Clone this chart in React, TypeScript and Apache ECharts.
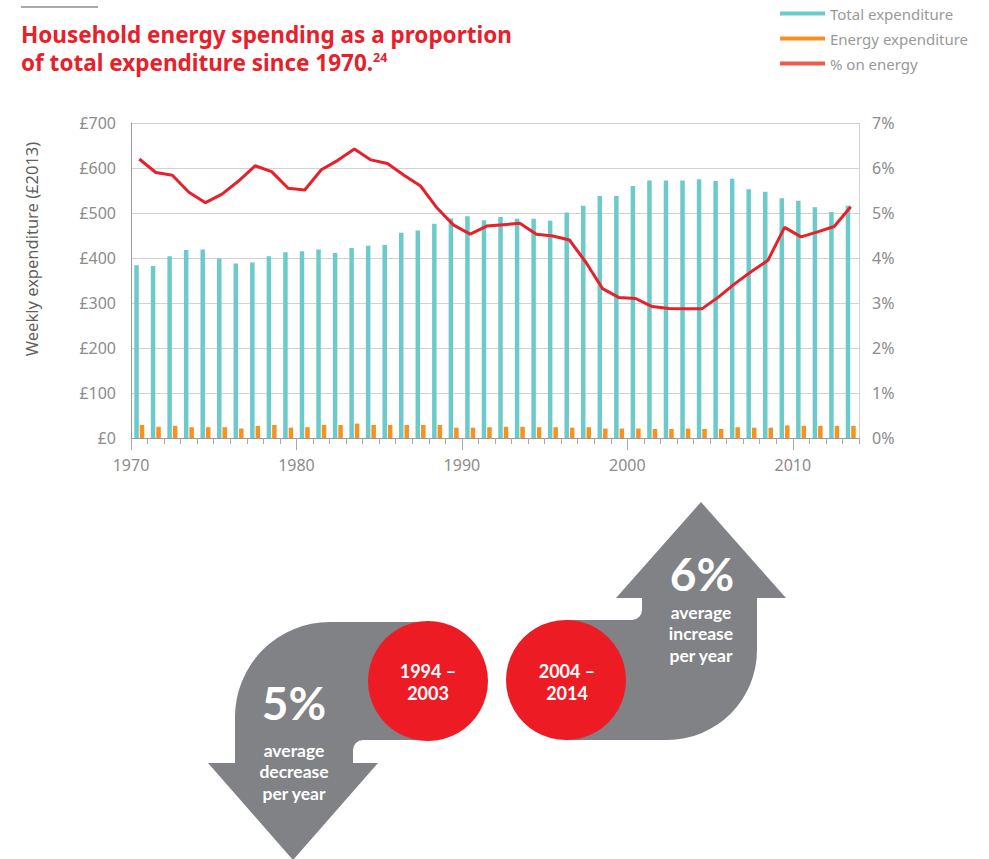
import React, { useEffect, useRef } from "react";
import * as echarts from "echarts";

const FONT = "'Noto Sans', 'Open Sans', sans-serif";
const FONT_ARROW = "Lato, 'Noto Sans', sans-serif";

const years = [
  "1970", "1971", "1972", "1973", "1974", "1975", "1976", "1977", "1978", "1979",
  "1980", "1981", "1982", "1983", "1984", "1985", "1986", "1987", "1988", "1989",
  "1990", "1991", "1992", "1993", "1994", "1995", "1996", "1997", "1998", "1999",
  "2000", "2001", "2002", "2003", "2004", "2005", "2006", "2007", "2008", "2009",
  "2010", "2011", "2012", "2013",
];

// Weekly total household expenditure (£, 2013 prices)
const totalExpenditure = [
  384, 382, 404, 418, 419, 399, 388, 390, 404, 413,
  415, 419, 411, 422, 427, 429, 456, 461, 476, 488,
  493, 484, 491, 487, 487, 483, 501, 516, 538, 538,
  560, 572, 572, 572, 575, 571, 576, 553, 547, 533,
  527, 513, 502, 516,
];

// Weekly household energy expenditure (£, 2013 prices)
const energyExpenditure = [
  29, 25, 27, 24, 24, 24, 21, 27, 29, 23,
  24, 29, 29, 32, 29, 29, 29, 29, 29, 23,
  23, 24, 25, 25, 24, 24, 23, 24, 21, 21,
  21, 20, 20, 21, 20, 20, 24, 23, 23, 28,
  27, 27, 27, 27,
];

// Share of expenditure on energy (%)
const pctOnEnergy = [
  6.2, 5.9, 5.84, 5.46, 5.23, 5.42, 5.71, 6.05, 5.92, 5.55,
  5.51, 5.96, 6.17, 6.42, 6.18, 6.1, 5.84, 5.6, 5.11, 4.73,
  4.53, 4.71, 4.74, 4.77, 4.53, 4.49, 4.4, 3.9, 3.32, 3.12,
  3.1, 2.92, 2.88, 2.87, 2.87, 3.13, 3.43, 3.7, 3.95, 4.68,
  4.47, 4.58, 4.7, 5.14,
];

const decadeTicks = [1970, 1980, 1990, 2000, 2010];

const leftArrowD =
  "M428 622 L330 622 A95 95 0 0 0 235 717 L235 763 L208 763 L293 860 L378 763 L353 763 L353 750 A10 10 0 0 1 363 740 L428 740 Z";
const rightArrowD =
  "M566 740 L667 740 A90 90 0 0 0 757 650 L757 598 L786 598 L701 502 L616 598 L642 598 L642 610 A10 10 0 0 1 632 620 L566 620 Z";

echarts.graphic.registerShape("leftArrow", echarts.graphic.extendPath(leftArrowD, {}));
echarts.graphic.registerShape("rightArrow", echarts.graphic.extendPath(rightArrowD, {}));

const TEAL = "#6dcaca";
const ORANGE = "#f7911f";
const RED = "#e8202a";
const GREY_SHAPE = "#818285";
const CIRCLE_RED = "#ed1c24";
const LABEL = "#8c8c8c";

export default function App() {
  const ref = useRef<HTMLDivElement>(null);

  useEffect(() => {
    document.body.style.margin = "0";
    if (!ref.current) return;
    const chart = echarts.init(ref.current, undefined, { renderer: "svg" });

    const whiteText = (x: number, y: number, text: string, size: number, weight: any) => ({
      type: "text",
      x,
      y,
      z: 10,
      style: {
        text,
        fill: "#ffffff",
        fontSize: size,
        fontWeight: weight,
        fontFamily: FONT_ARROW,
        align: "center",
        verticalAlign: "middle",
        lineHeight: size,
      },
    });

    const option: any = {
      animation: false,
      textStyle: { fontFamily: FONT },
      legend: {
        orient: "vertical",
        left: 775,
        top: 1,
        itemWidth: 45,
        itemHeight: 4,
        itemGap: 10,
        icon: "rect",
        textStyle: { color: "#999999", fontSize: 15, fontFamily: FONT },
        data: [
          { name: "Total expenditure", itemStyle: { color: TEAL } },
          { name: "Energy expenditure", itemStyle: { color: ORANGE } },
          { name: "% on energy", itemStyle: { color: "#f05a48" } },
        ],
      },
      grid: { left: 131, right: 130, top: 123, bottom: 421, containLabel: false },
      xAxis: [
        {
          type: "category",
          data: years,
          boundaryGap: true,
          position: "bottom",
          axisLine: { show: true, onZero: false, lineStyle: { color: "#9a9a9a", width: 1 } },
          axisTick: { show: true, interval: 0, length: 6, lineStyle: { color: "#a8a8a8" } },
          axisLabel: { show: false },
          splitLine: { show: false },
        },
        {
          type: "value",
          min: 1970,
          max: 2014,
          position: "bottom",
          axisLine: { show: false, onZero: false },
          axisTick: { show: true, length: 12, customValues: decadeTicks, lineStyle: { color: "#a8a8a8" } },
          axisLabel: {
            customValues: decadeTicks,
            color: LABEL,
            fontSize: 16,
            margin: 19,
            fontFamily: FONT,
            formatter: (v: number) => String(v),
          },
          splitLine: { show: false },
        },
      ],
      yAxis: [
        {
          type: "value",
          min: 0,
          max: 700,
          interval: 100,
          axisLine: { show: true, onZero: false, lineStyle: { color: "#9a9a9a" } },
          axisTick: { show: false },
          axisLabel: { formatter: (v: number) => "£" + v, color: LABEL, fontSize: 16, margin: 15, fontFamily: FONT },
          splitLine: { show: true, lineStyle: { color: "#d2d2d2", width: 1 } },
        },
        {
          type: "value",
          min: 0,
          max: 7,
          interval: 1,
          position: "right",
          axisLine: { show: true, onZero: false, lineStyle: { color: "#d2d2d2" } },
          axisTick: { show: false },
          axisLabel: { formatter: "{value}%", color: LABEL, fontSize: 16, margin: 13, fontFamily: FONT },
          splitLine: { show: false },
        },
      ],
      series: [
        {
          name: "Total expenditure",
          type: "bar",
          xAxisIndex: 0,
          yAxisIndex: 0,
          data: totalExpenditure,
          barWidth: 4.5,
          barGap: "22%",
          itemStyle: { color: TEAL },
        },
        {
          name: "Energy expenditure",
          type: "bar",
          xAxisIndex: 0,
          yAxisIndex: 0,
          data: energyExpenditure,
          barWidth: 4.5,
          itemStyle: { color: ORANGE },
        },
        {
          name: "% on energy",
          type: "line",
          xAxisIndex: 0,
          yAxisIndex: 1,
          data: pctOnEnergy,
          symbol: "none",
          lineStyle: { color: RED, width: 3 },
          itemStyle: { color: RED },
          z: 5,
        },
      ],
      graphic: [
        {
          type: "line",
          shape: { x1: 21, y1: 7, x2: 98, y2: 7 },
          style: { stroke: "#8c8c8c", lineWidth: 1.5 },
        },
        {
          type: "text",
          x: 21,
          y: 20,
          style: {
            text: "Household energy spending as a proportion\nof total expenditure since 1970.{sup|24}",
            fill: RED,
            fontSize: 22.5,
            fontWeight: "bold",
            fontFamily: FONT,
            lineHeight: 28,
            align: "left",
            verticalAlign: "top",
            rich: {
              sup: {
                fontSize: 12.5,
                fontWeight: "bold",
                fill: RED,
                fontFamily: FONT,
                verticalAlign: "top",
                lineHeight: 14,
                padding: [3, 0, 0, 0],
              },
            },
          },
        },
        {
          type: "text",
          x: 31,
          y: 249,
          rotation: Math.PI / 2,
          style: {
            text: "Weekly expenditure (£2013)",
            fill: "#5f5f5f",
            fontSize: 16.5,
            fontFamily: FONT,
            align: "center",
            verticalAlign: "middle",
          },
        },
        { type: "leftArrow", x: 0, y: 0, z: 1, style: { fill: GREY_SHAPE } },
        { type: "rightArrow", x: 0, y: 0, z: 1, style: { fill: GREY_SHAPE } },
        { type: "circle", z: 2, shape: { cx: 428, cy: 681, r: 60 }, style: { fill: CIRCLE_RED } },
        { type: "circle", z: 2, shape: { cx: 566, cy: 680, r: 60 }, style: { fill: CIRCLE_RED } },
        whiteText(428, 671, "1994 –", 18, "bold"),
        whiteText(428, 693, "2003", 18, "bold"),
        whiteText(567, 671, "2004 –", 18, "bold"),
        whiteText(567, 693, "2014", 18, "bold"),
        whiteText(294, 702, "5%", 46, "bold"),
        whiteText(294, 750, "average", 17.5, "bold"),
        whiteText(294, 771.5, "decrease", 17.5, "bold"),
        whiteText(294, 793, "per year", 17.5, "bold"),
        whiteText(702, 573, "6%", 46, "bold"),
        whiteText(701, 612, "average", 17.5, "bold"),
        whiteText(701, 633.5, "increase", 17.5, "bold"),
        whiteText(701, 655, "per year", 17.5, "bold"),
      ],
    };

    chart.setOption(option);
    return () => chart.dispose();
  }, []);

  return <div ref={ref} style={{ width: 989, height: 859 }} />;
}
